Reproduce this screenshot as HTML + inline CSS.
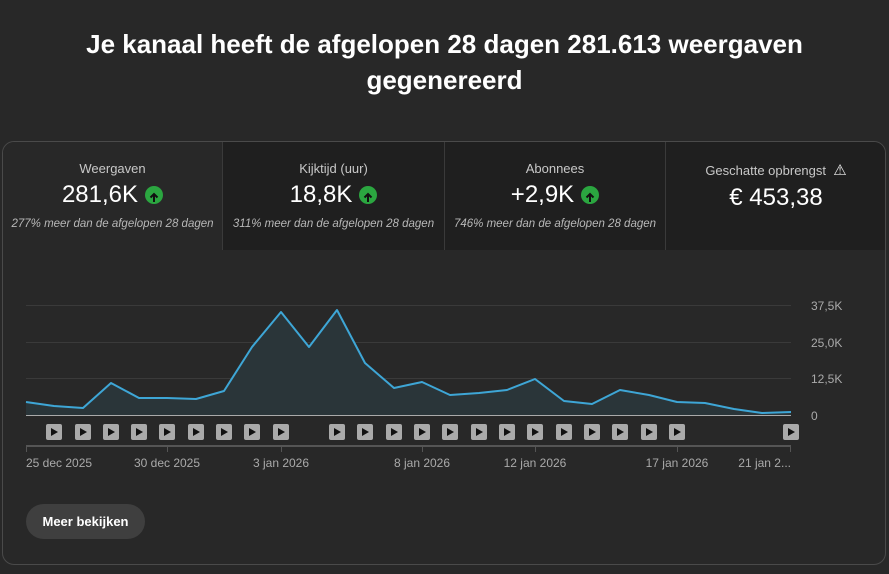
<!DOCTYPE html>
<html><head><meta charset="utf-8"><style>
body{margin:0;width:889px;height:574px;background:#282828;font-family:"Liberation Sans",sans-serif;color:#fff;overflow:hidden;position:relative}
h1{position:absolute;top:26px;left:0;width:889px;margin:0;text-align:center;font-size:26px;font-weight:bold;line-height:36px}
.card{position:absolute;left:2px;top:141px;width:882px;height:422px;border:1px solid #4a4a4a;border-radius:12px;overflow:hidden}
.cell{position:absolute;top:0;height:108px;background:#1f1f1f;text-align:center;border-right:1px solid #3a3a3a}
.cell .t{margin-top:19px;font-size:13px;color:#c8c8c8}
.cell .v{margin-top:5px;font-size:24px;display:flex;justify-content:center;align-items:center;gap:7px}
.up{width:18px;height:18px;border-radius:50%;background:#2ba640;display:inline-block;position:relative}
.cell .s{margin-top:9px;font-size:11.5px;font-style:italic;color:#b8b8b8}
.btn{position:absolute;left:26px;top:504px;width:119px;height:35px;border-radius:18px;background:#3f3f3f;font-size:13px;font-weight:bold;line-height:35px;text-align:center}
</style></head><body>
<h1>Je kanaal heeft de afgelopen 28 dagen 281.613 weergaven<br>gegenereerd</h1>
<div class="card">
<div class="cell" style="left:0;width:219px;background:#282828"><div class="t">Weergaven</div><div class="v">281,6K <span class="up"><svg width="18" height="18"><path d="M9 13V5M5.5 8.5L9 5l3.5 3.5" stroke="#111" stroke-width="2" fill="none"/></svg></span></div><div class="s">277% meer dan de afgelopen 28 dagen</div></div>
<div class="cell" style="left:220px;width:221px"><div class="t">Kijktijd (uur)</div><div class="v">18,8K <span class="up"><svg width="18" height="18"><path d="M9 13V5M5.5 8.5L9 5l3.5 3.5" stroke="#111" stroke-width="2" fill="none"/></svg></span></div><div class="s">311% meer dan de afgelopen 28 dagen</div></div>
<div class="cell" style="left:442px;width:220px"><div class="t">Abonnees</div><div class="v">+2,9K <span class="up"><svg width="18" height="18"><path d="M9 13V5M5.5 8.5L9 5l3.5 3.5" stroke="#111" stroke-width="2" fill="none"/></svg></span></div><div class="s">746% meer dan de afgelopen 28 dagen</div></div>
<div class="cell" style="left:663px;width:220px;border:none"><div class="t">Geschatte opbrengst &nbsp;<span style="font-size:15px;color:#eee">⚠</span></div><div class="v">€ 453,38</div></div>
</div>
<svg style="position:absolute;left:0;top:0" width="889" height="574">
<g stroke="#3a3a3a" stroke-width="1"><line x1="26" y1="305.5" x2="791" y2="305.5"/><line x1="26" y1="342.5" x2="791" y2="342.5"/><line x1="26" y1="378.5" x2="791" y2="378.5"/></g>
<polygon fill="#2a3539" points="26,415 26,402 54,406 83,408 111,383 139,398 167,398 196,399 224,391 252,347 281,312 309,347 337,310 365,363 394,388 422,382 450,395 479,393 507,390 535,379 564,401 592,404 620,390 649,395 677,402 705,403 734,409 762,413 791,412 791,415"/>
<polyline fill="none" stroke="#3ea6d6" stroke-width="2" stroke-linejoin="round" points="26,402 54,406 83,408 111,383 139,398 167,398 196,399 224,391 252,347 281,312 309,347 337,310 365,363 394,388 422,382 450,395 479,393 507,390 535,379 564,401 592,404 620,390 649,395 677,402 705,403 734,409 762,413 791,412"/>
<line x1="26" y1="415.5" x2="791" y2="415.5" stroke="#aaa"/>
<line x1="26" y1="446" x2="791" y2="446" stroke="#555" stroke-width="2"/>
<g stroke="#555"><line x1="26.5" y1="446" x2="26.5" y2="452"/><line x1="167.5" y1="446" x2="167.5" y2="452"/><line x1="281.5" y1="446" x2="281.5" y2="452"/><line x1="422.5" y1="446" x2="422.5" y2="452"/><line x1="535.5" y1="446" x2="535.5" y2="452"/><line x1="677.5" y1="446" x2="677.5" y2="452"/><line x1="790.5" y1="446" x2="790.5" y2="452"/></g>
<g fill="#aaa" font-size="12" font-family="Liberation Sans"><text x="811" y="310">37,5K</text><text x="811" y="347">25,0K</text><text x="811" y="383">12,5K</text><text x="811" y="420">0</text></g>
<g fill="#aaa" font-size="12" font-family="Liberation Sans" text-anchor="middle"><text x="26" y="467" text-anchor="start">25 dec 2025</text><text x="167" y="467">30 dec 2025</text><text x="281" y="467">3 jan 2026</text><text x="422" y="467">8 jan 2026</text><text x="535" y="467">12 jan 2026</text><text x="677" y="467">17 jan 2026</text><text x="791" y="467" text-anchor="end">21 jan 2...</text></g>
</svg>
<svg style="position:absolute;left:0;top:0" width="889" height="574">
<defs><g id="p"><rect x="-8" y="0" width="16" height="16" rx="2" fill="#aaa"/><path d="M-3 4L4 8L-3 12Z" fill="#111"/></g></defs>
<g transform="translate(0,424)">
<use href="#p" x="54"/><use href="#p" x="83"/><use href="#p" x="111"/><use href="#p" x="139"/><use href="#p" x="167"/><use href="#p" x="196"/><use href="#p" x="224"/><use href="#p" x="252"/><use href="#p" x="281"/>
<use href="#p" x="337"/><use href="#p" x="365"/><use href="#p" x="394"/><use href="#p" x="422"/><use href="#p" x="450"/><use href="#p" x="479"/><use href="#p" x="507"/><use href="#p" x="535"/><use href="#p" x="564"/><use href="#p" x="592"/><use href="#p" x="620"/><use href="#p" x="649"/><use href="#p" x="677"/><use href="#p" x="791"/>
</g></svg>
<div class="btn">Meer bekijken</div>
</body></html>
